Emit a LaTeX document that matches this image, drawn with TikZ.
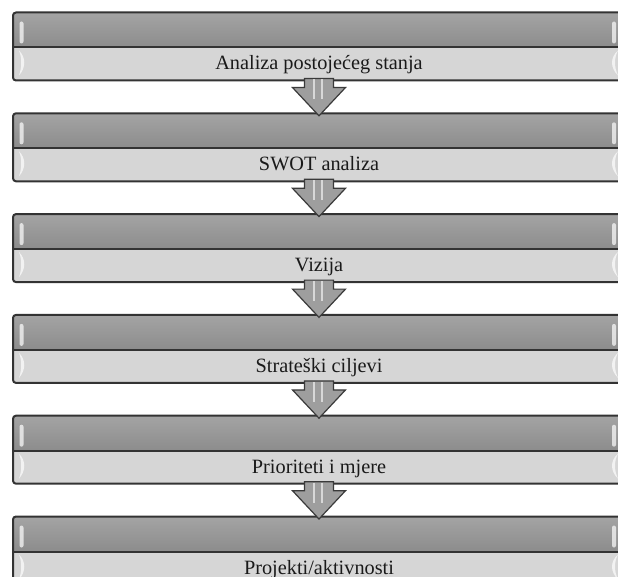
\documentclass[tikz,border=0pt]{standalone}
\usepackage{fontspec}
\setmainfont{Liberation Serif}
\usetikzlibrary{calc}
\definecolor{bordc}{HTML}{333333}
\definecolor{darkband}{HTML}{8C8C8C}
\definecolor{darktop}{HTML}{A4A4A4}
\definecolor{lightband}{HTML}{D6D6D6}
\definecolor{arrowfill}{HTML}{9E9E9E}
\definecolor{arrowline}{HTML}{3A3A3A}
\definecolor{txtc}{HTML}{1A1A1A}
\tikzset{
  boxst/.style={rectangle, minimum width=612pt, minimum height=68pt, inner sep=0pt, outer sep=0pt, fill=lightband, rounded corners=3pt},
  bordst/.style={draw=bordc, line width=2pt, rounded corners=3pt},
  lbl/.style={anchor=base, font=\fontsize{20.3}{23}\selectfont, text=txtc, inner sep=0pt},
  arrowst/.style={draw=arrowline, line width=1.2pt, fill=arrowfill, line join=miter},
  hilite/.style={fill=white, opacity=0.7}
}
\begin{document}
\begin{tikzpicture}[x=1pt,y=-1pt]
\useasboundingbox (0,0) rectangle (618,577);
\fill[white] (0,0) rectangle (618,577);
\foreach \i/\txt in {0/{Analiza postojećeg stanja},1/{SWOT analiza},2/{Vizija},3/{Strateški ciljevi},4/{Prioriteti i mjere},5/{Projekti/aktivnosti}}{
  \pgfmathsetmacro\T{12.5+100.8*\i}
  \pgfmathsetmacro\D{\T+35}
  \pgfmathsetmacro\B{\T+68}
  \node[boxst] (box\i) at (319,\T+34) {};
  \fill[top color=darktop, bottom color=darkband] (13,\D) [rounded corners=3pt] -- (13,\T) -- (625,\T) [sharp corners] -- (625,\D) -- cycle;
  % left highlights
  \fill[hilite, rounded corners=2pt] (19.5,\T+9) rectangle (23.5,\T+31);
  \fill[hilite] (19,\T+38) .. controls (26,\T+45) and (26,\T+55) .. (19,\T+63) .. controls (22,\T+55) and (22,\T+45) .. (19,\T+38);
  % right highlights
  \fill[hilite, rounded corners=2pt] (612,\T+9) rectangle (616,\T+31);
  \fill[hilite] (618,\T+38) .. controls (610,\T+45) and (610,\T+55) .. (618,\T+63) .. controls (614,\T+55) and (614,\T+45) .. (618,\T+38);
  \draw[bordst] (box\i.north west) rectangle (box\i.south east);
  \draw[bordc, line width=2pt] (13,\D) -- (625,\D);
  \node[lbl] (t\i) at (319,\T+57.5) {\txt};
}
\foreach \i/\j in {0/1,1/2,2/3,3/4,4/5}{
  \draw[arrowst] ($(box\i.south)+(-14.5,-2)$) -- ++(0,9) -- ++(-12,0) -- ($(box\j.north)+(0,2.5)$) -- ($(box\i.south)+(26.5,7)$) -- ++(-12,0) -- ++(0,-9) -- cycle;
  \draw[white, opacity=0.6, line width=2.5pt] ($(box\i.south)+(-5,-1)$) -- ++(0,20);
  \draw[white, opacity=0.6, line width=2.5pt] ($(box\i.south)+(3,-1)$) -- ++(0,20);
}
\end{tikzpicture}
\end{document}
